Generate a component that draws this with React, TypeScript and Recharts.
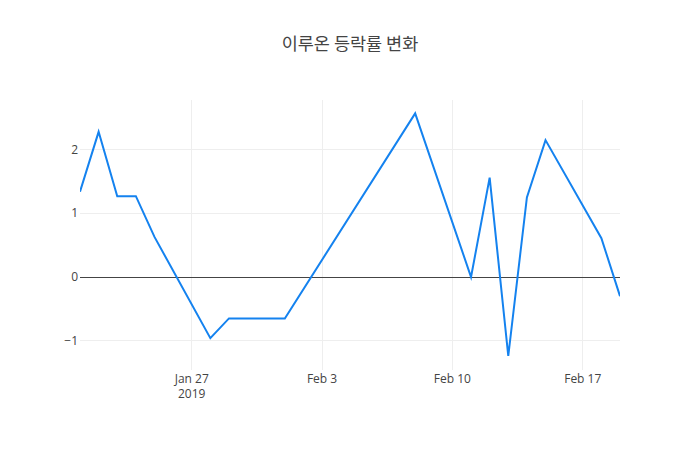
import React from 'react';
import { LineChart, Line, XAxis, YAxis, ReferenceLine } from 'recharts';

const dates = [
  '2019-01-21', '2019-01-22', '2019-01-23', '2019-01-24', '2019-01-25',
  '2019-01-28', '2019-01-29', '2019-01-30', '2019-01-31', '2019-02-01',
  '2019-02-08', '2019-02-11', '2019-02-12', '2019-02-13', '2019-02-14',
  '2019-02-15', '2019-02-18', '2019-02-19',
];
const changes = [
  1.34, 2.28, 1.27, 1.27, 0.63,
  -0.96, -0.65, -0.65, -0.65, -0.65,
  2.57, 0.0, 1.56, -1.24, 1.25,
  2.15, 0.61, -0.30,
];
const xTickDates = ['2019-01-27', '2019-02-03', '2019-02-10', '2019-02-17'];
const xTickLabels = ['Jan 27', 'Feb 3', 'Feb 10', 'Feb 17'];
const yTicks = [-1, 0, 1, 2];
const title = '이루온 등락률 변화';

const toTs = (d: string) => Date.parse(d + 'T00:00:00Z');
const data = dates.map((d, i) => ({ t: toTs(d), v: changes[i] }));
const xTicks = xTickDates.map(toTs);

const FONT = '"Open Sans", "Noto Sans", sans-serif';

const XTick = (props: any) => {
  const { x, y, payload } = props;
  const idx = xTicks.indexOf(payload.value);
  const label = idx >= 0 ? xTickLabels[idx] : '';
  return (
    <g>
      <text x={x} y={y + 13} textAnchor="middle" fontFamily={FONT} fontSize={12} fill="#444">
        {label}
      </text>
      {idx === 0 && (
        <text x={x} y={y + 28} textAnchor="middle" fontFamily={FONT} fontSize={12} fill="#444">
          2019
        </text>
      )}
    </g>
  );
};

const YTick = (props: any) => {
  const { x, y, payload } = props;
  const v = payload.value as number;
  const s = v < 0 ? '\u2212' + Math.abs(v) : String(v);
  return (
    <text x={x} y={y + 4} textAnchor="end" fontFamily={FONT} fontSize={12} fill="#444">
      {s}
    </text>
  );
};

export default function App() {
  return (
    <div style={{ position: 'absolute', left: 0, top: 0, width: 700, height: 450, background: '#fff' }}>
      <LineChart width={700} height={450} data={data} margin={{ top: 100, right: 80, bottom: 0, left: 0 }}>
        <text x={350} y={50} textAnchor="middle" fontFamily='"Noto Sans CJK KR", "Open Sans", sans-serif' fontSize={17.5} fill="#444">
          {title}
        </text>
        <XAxis
          dataKey="t"
          type="number"
          scale="time"
          domain={[toTs('2019-01-21'), toTs('2019-02-19')]}
          ticks={xTicks}
          height={80}
          axisLine={false}
          tickLine={false}
          tickSize={0}
          tickMargin={0}
          tick={<XTick />}
          interval={0}
          allowDataOverflow
        />
        <YAxis
          type="number"
          domain={[-1.46, 2.78]}
          ticks={yTicks}
          width={80}
          axisLine={false}
          tickLine={false}
          tickSize={0}
          tickMargin={2}
          tick={<YTick />}
          interval={0}
          allowDataOverflow
        />
        {xTicks.map((t) => (
          <ReferenceLine key={'vx' + t} x={t} stroke="#eee" strokeWidth={1} shapeRendering="crispEdges" />
        ))}
        {yTicks.filter((v) => v !== 0).map((v) => (
          <ReferenceLine key={'hy' + v} y={v} stroke="#eee" strokeWidth={1} shapeRendering="crispEdges" />
        ))}
        <ReferenceLine y={0} stroke="#444" strokeWidth={1} shapeRendering="crispEdges" />
        <Line
          type="linear"
          dataKey="v"
          stroke="#1482ef"
          strokeWidth={2}
          dot={false}
          isAnimationActive={false}
        />
      </LineChart>
    </div>
  );
}
